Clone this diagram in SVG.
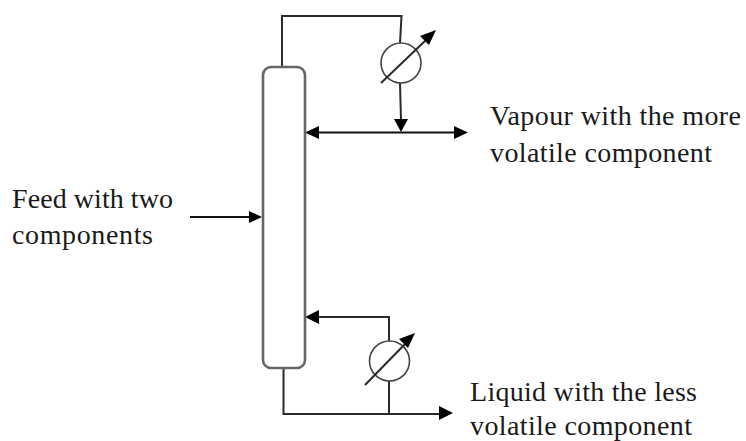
<svg xmlns="http://www.w3.org/2000/svg" width="746" height="441" viewBox="0 0 746 441">
<style>
.l{fill:none;stroke:#2a2a2a;stroke-width:2}
.e{fill:none;stroke:#444;stroke-width:1.6}
.a{fill:#000;stroke:none}
text{font-family:"Liberation Serif","Times New Roman",serif;font-size:28px;fill:#1a1a1a}
</style>
<rect width="746" height="441" fill="#fff"/>
<g id="connectors">
<path class="l" d="M282 67V16H401.500L400 43"/>
<path class="l" d="M400 83L401 120"/>
<path class="a" d="M401 132L394 119H408Z"/>
<path class="l" d="M318 132.500H458" style="stroke:#111"/>
<path class="a" d="M305 132.500L319 126V139Z"/>
<path class="a" d="M468 132.500L454 126V139Z"/>
<path class="l" d="M190 217H250" style="stroke:#111"/>
<path class="a" d="M262 217L249 211V223Z"/>
<path class="l" d="M318 317H389V341"/>
<path class="a" d="M305 317L319 310V324Z"/>
<path class="l" d="M389 381V414"/>
<path class="l" d="M283.500 368V414H440"/>
<path class="a" d="M453 413L439 406V420Z"/>
</g>
<g id="column"><rect x="263" y="67" width="42" height="301" rx="8" fill="#fff" stroke="#666" stroke-width="2.600"/></g>
<g id="condenser">
<circle class="e" cx="401" cy="63" r="20"/>
<path class="l" d="M381 83L426 40"/>
<path class="a" d="M436 30L429 45L420 36Z"/>
</g>
<g id="reboiler">
<circle class="e" cx="389.500" cy="361" r="20"/>
<path class="l" d="M365 385L407 342"/>
<path class="a" d="M415 333L408 348L399 339Z"/>
</g>
<g id="labels">
<text x="12" y="208" textLength="161" lengthAdjust="spacing">Feed with two</text>
<text x="12" y="244" textLength="141" lengthAdjust="spacing">components</text>
<text x="490" y="125" textLength="251" lengthAdjust="spacing">Vapour with the more</text>
<text x="490" y="162" textLength="222" lengthAdjust="spacing">volatile component</text>
<text x="470" y="401" textLength="227" lengthAdjust="spacing">Liquid with the less</text>
<text x="470" y="435" textLength="222" lengthAdjust="spacing">volatile component</text>
</g>
</svg>
